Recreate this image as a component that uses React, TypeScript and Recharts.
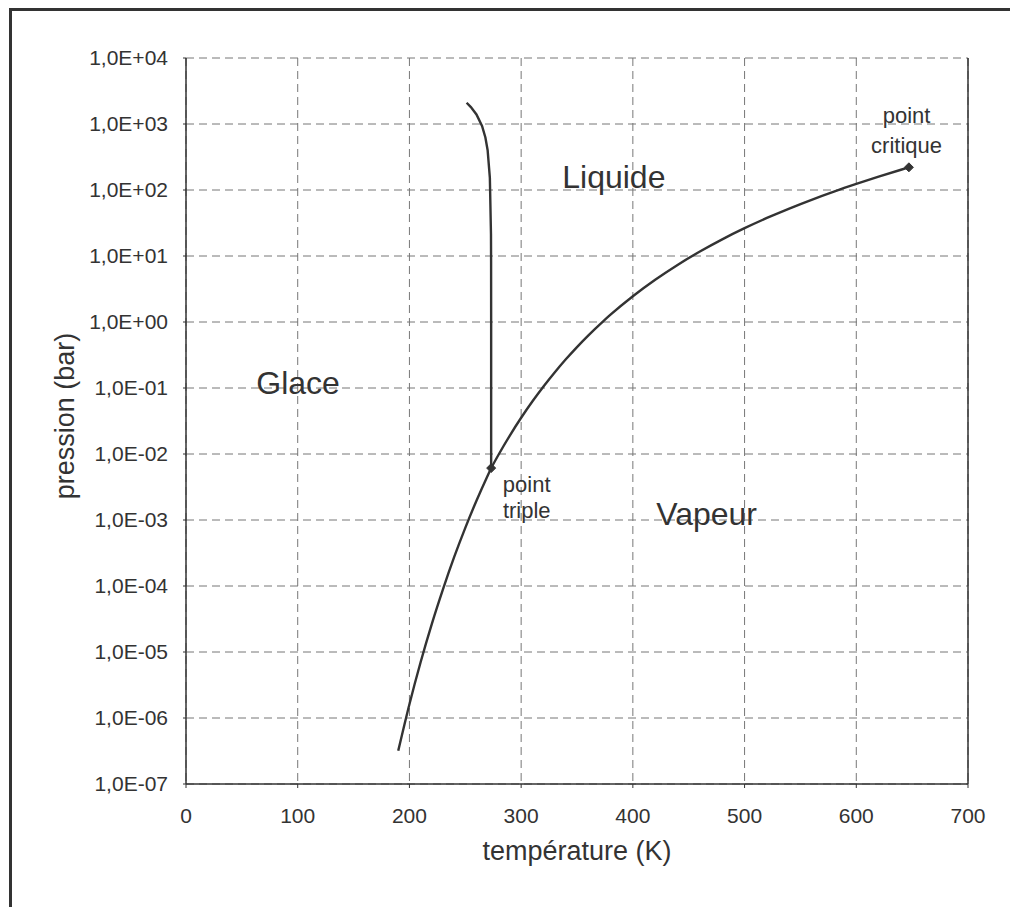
import React from 'react';
import {
  ComposedChart,
  Line,
  Scatter,
  XAxis,
  YAxis,
  CartesianGrid,
  ReferenceLine,
  ReferenceDot,
  Label,
} from 'recharts';

// Sublimation curve (ice - vapour)
const sublimationT = [190, 200, 210, 220, 230, 240, 250, 260, 270, 273.16];
const sublimationP = [3.2e-7, 1.62e-6, 7.0e-6, 2.65e-5, 8.9e-5, 2.73e-4, 7.6e-4, 1.96e-3, 4.7e-3, 6.12e-3];

// Vaporisation curve (liquid - vapour)
const vaporT = [273.16, 280, 290, 300, 310, 320, 330, 340, 350, 360, 373.15, 380, 400, 420, 440, 460, 480, 500, 520, 540, 560, 580, 600, 620, 640, 647.1];
const vaporP = [6.12e-3, 9.92e-3, 1.92e-2, 3.54e-2, 6.24e-2, 0.1055, 0.172, 0.272, 0.417, 0.622, 1.014, 1.29, 2.46, 4.37, 7.33, 11.7, 17.9, 26.4, 37.7, 52.4, 71.1, 94.5, 123.4, 159.1, 202.7, 220.6];

// Melting curve (ice - liquid)
const meltingT = [251.2, 255, 260, 265, 268, 270, 272, 273, 273.1, 273.15, 273.16];
const meltingP = [2099, 1803, 1394, 937, 626, 400, 153, 21.6, 8.1, 1.0, 6.12e-3];

// Special points: triple point and critical point
const specialT = [273.16, 647.1];
const specialP = [6.12e-3, 220.6];

const xTicks = [0, 100, 200, 300, 400, 500, 600, 700];
const yTicks = [1e-7, 1e-6, 1e-5, 1e-4, 1e-3, 1e-2, 1e-1, 1e0, 1e1, 1e2, 1e3, 1e4];
const yTickLabels = ['1,0E-07', '1,0E-06', '1,0E-05', '1,0E-04', '1,0E-03', '1,0E-02', '1,0E-01', '1,0E+00', '1,0E+01', '1,0E+02', '1,0E+03', '1,0E+04'];

// Annotations: text lines at (T, p)
const annotations = [
  { lines: ['Liquide'], t: 383, p: 107, size: 32, gap: 0 },
  { lines: ['Glace'], t: 100.3, p: 0.081, size: 32, gap: 0 },
  { lines: ['Vapeur'], t: 466, p: 8.4e-4, size: 32, gap: 0 },
  { lines: ['point', 'critique'], t: 645, p: 1035, size: 22, gap: 30 },
  { lines: ['point', 'triple'], t: 305, p: 2.65e-3, size: 22, gap: 26 },
];

const toPoints = (ts: number[], ps: number[]) => ts.map((t, i) => ({ t, p: ps[i] }));
const sublimation = toPoints(sublimationT, sublimationP);
const vaporisation = toPoints(vaporT, vaporP);
const melting = toPoints(meltingT, meltingP);
const special = toPoints(specialT, specialP);

const FONT = '"Liberation Sans", Arial, Helvetica, sans-serif';
const TEXT = '#333';

const Diamond = (props: any) => {
  const { cx, cy } = props;
  if (cx == null || cy == null) return null;
  const s = 4.5;
  return (
    <polygon
      points={`${cx},${cy - s} ${cx + s},${cy} ${cx},${cy + s} ${cx - s},${cy}`}
      fill="#333"
      stroke="#333"
    />
  );
};

const makeLabel = (lines: string[], size: number, gap: number) => (props: any) => {
  const vb = props.viewBox || {};
  const x = (vb.x ?? 0) + (vb.width ?? 0) / 2;
  const y = (vb.y ?? 0) + (vb.height ?? 0) / 2;
  return (
    <text x={x} y={y} textAnchor="middle" fontFamily={FONT} fontSize={size} fill={TEXT}>
      {lines.map((l, i) => (
        <tspan key={i} x={x} y={y + i * gap}>
          {l}
        </tspan>
      ))}
    </text>
  );
};

const YTitle = () => {
  const x = 74;
  const y = 416;
  return (
    <text
      x={x}
      y={y}
      transform={`rotate(-90 ${x} ${y})`}
      textAnchor="middle"
      fontFamily={FONT}
      fontSize={27}
      fill={TEXT}
    >
      pression (bar)
    </text>
  );
};

const XTitle = () => (
  <text x={577} y={860} textAnchor="middle" fontFamily={FONT} fontSize={27} fill={TEXT}>
    température (K)
  </text>
);

export default function App() {
  return (
    <div style={{ position: 'absolute', left: 0, top: 0, width: 1010, height: 907, overflow: 'hidden', background: '#fff' }}>
      <div style={{ position: 'absolute', left: 9, top: 8, width: 3, height: 899, background: '#333' }} />
      <div style={{ position: 'absolute', left: 9, top: 8, width: 1001, height: 3, background: '#333' }} />
      <div style={{ position: 'absolute', left: 0, top: 0 }}>
        <ComposedChart width={1010} height={907} margin={{ top: 58, right: 42, bottom: 0, left: 0 }}>
          <CartesianGrid stroke="#777" strokeDasharray="8 5" strokeWidth={1} />
          <XAxis
            type="number"
            dataKey="t"
            domain={[0, 700]}
            ticks={xTicks}
            interval={0}
            height={123}
            allowDataOverflow
            axisLine={{ stroke: '#333', strokeWidth: 1.5 }}
            tickLine={{ stroke: '#333' }}
            tickSize={4}
            tickMargin={20}
            tick={{ fill: TEXT, fontSize: 21, fontFamily: FONT }}
          >
            <Label content={<XTitle />} />
          </XAxis>
          <YAxis
            type="number"
            dataKey="p"
            scale="log"
            domain={[1e-7, 1e4]}
            ticks={yTicks}
            interval={0}
            width={186}
            allowDataOverflow
            tickFormatter={(v: number) => {
              const idx = yTicks.findIndex((t) => Math.abs(Math.log10(t) - Math.log10(v)) < 1e-6);
              return idx >= 0 ? yTickLabels[idx] : '';
            }}
            axisLine={{ stroke: '#333', strokeWidth: 1.5 }}
            tickLine={{ stroke: '#333' }}
            tickSize={3}
            tickMargin={15}
            tick={{ fill: TEXT, fontSize: 21, fontFamily: FONT }}
          >
            <Label content={<YTitle />} />
          </YAxis>
          <ReferenceLine x={700} stroke="#333" strokeWidth={1.5} />
          <Line
            data={sublimation}
            dataKey="p"
            type="monotone"
            stroke="#333"
            strokeWidth={2.4}
            dot={false}
            activeDot={false}
            isAnimationActive={false}
          />
          <Line
            data={vaporisation}
            dataKey="p"
            type="monotone"
            stroke="#333"
            strokeWidth={2.4}
            dot={false}
            activeDot={false}
            isAnimationActive={false}
          />
          <Line
            data={melting}
            dataKey="p"
            type="linear"
            stroke="#333"
            strokeWidth={2.4}
            dot={false}
            activeDot={false}
            isAnimationActive={false}
          />
          <Scatter data={special} dataKey="p" shape={<Diamond />} isAnimationActive={false} />
          {annotations.map((a, i) => (
            <ReferenceDot
              key={i}
              x={a.t}
              y={a.p}
              r={1}
              fill="none"
              stroke="none"
              label={makeLabel(a.lines, a.size, a.gap)}
            />
          ))}
        </ComposedChart>
      </div>
    </div>
  );
}
